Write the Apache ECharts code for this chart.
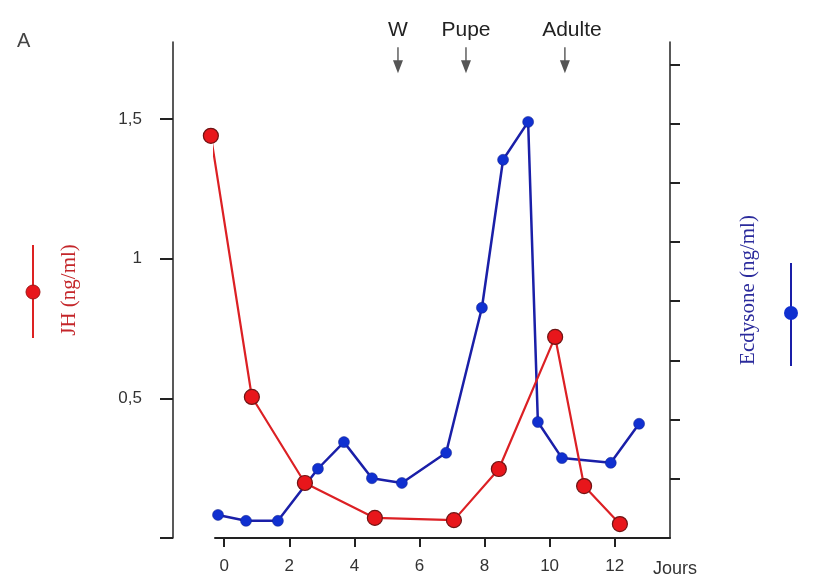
<!DOCTYPE html>
<html>
<head>
<meta charset="utf-8">
<script src="https://cdn.jsdelivr.net/npm/echarts@6/dist/echarts.min.js"></script>
<style>
  html, body { margin: 0; padding: 0; background: #fff; }
  #chart { width: 821px; height: 586px; }
</style>
</head>
<body>
<div id="chart"></div>
<script>
// days (x) and values
const jhDays = [-0.41, 0.85, 2.48, 4.63, 7.06, 8.44, 10.17, 11.06, 12.16];
const jhValues = [1.44, 0.505, 0.197, 0.072, 0.064, 0.247, 0.72, 0.186, 0.05];
const ecdDays = [-0.19, 0.67, 1.65, 2.88, 3.68, 4.54, 5.46, 6.82, 7.92, 8.57, 9.34, 9.64, 10.38, 11.88, 12.75];
const ecdValues = [0.39, 0.29, 0.29, 1.17, 1.62, 1.01, 0.93, 1.44, 3.89, 6.39, 7.03, 1.96, 1.35, 1.27, 1.93];
const xTicks = [0, 2, 4, 6, 8, 10, 12];
const jhTicks = [0, 0.5, 1, 1.5];
const jhLabels = [0.5, 1, 1.5];
const ecdTicks = [1, 2, 3, 4, 5, 6, 7, 8];
const stages = ['W', 'Pupe', 'Adulte'];
const stageDays = [5.34, 7.43, 10.47];

const RED = '#dc2024';
const BLUE = '#1a1fa8';
const sans = 'Liberation Sans, Arial, sans-serif';
const serif = 'Liberation Serif, Times New Roman, serif';
const arrow = 'path://M4.3,0 L5.7,0 L5.7,13 L10,13 L5,26 L0,13 L4.3,13 Z';

var chart = echarts.init(document.getElementById('chart'));

var option = {
  animation: false,
  backgroundColor: '#fff',
  title: {
    text: 'A',
    left: 12,
    top: 26,
    textStyle: { fontFamily: sans, fontSize: 20, fontWeight: 'normal', color: '#444' }
  },
  grid: { left: 215, right: 151, top: 42, bottom: 48 },
  xAxis: {
    type: 'value',
    min: -0.283,
    max: 13.7,
    splitLine: { show: false },
    axisLine: { onZero: false, lineStyle: { color: '#222', width: 2 } },
    axisTick: { length: 9, customValues: xTicks, lineStyle: { color: '#222', width: 2 } },
    axisLabel: {
      customValues: xTicks,
      margin: 20,
      fontFamily: sans,
      fontSize: 17,
      color: '#333'
    },
    name: 'Jours',
    nameLocation: 'end',
    nameGap: -17,
    nameTextStyle: {
      fontFamily: sans, fontSize: 18, color: '#333',
      align: 'left', verticalAlign: 'top', padding: [22, 0, 0, 0]
    }
  },
  yAxis: [
    {
      type: 'value',
      position: 'left',
      offset: 42,
      min: 0,
      max: 1.776,
      splitLine: { show: false },
      axisLine: { show: true, onZero: false, lineStyle: { color: '#222', width: 1.5 } },
      axisTick: { length: 13, customValues: jhTicks, lineStyle: { color: '#222', width: 2 } },
      axisLabel: {
        customValues: jhLabels,
        margin: 31,
        fontFamily: sans,
        fontSize: 17,
        color: '#333',
        formatter: function (v) { return String(v).replace('.', ','); }
      },
      name: 'JH (ng/ml)',
      nameLocation: 'middle',
      nameRotate: 90,
      nameGap: 93,
      nameTextStyle: { fontFamily: serif, fontSize: 21, color: '#c4262a' }
    },
    {
      type: 'value',
      position: 'right',
      min: 0,
      max: 8.38,
      splitLine: { show: false },
      axisLine: { show: true, onZero: false, lineStyle: { color: '#222', width: 1.5 } },
      axisTick: { length: 10, customValues: ecdTicks, lineStyle: { color: '#222', width: 2 } },
      axisLabel: { show: false },
      name: 'Ecdysone (ng/ml)',
      nameLocation: 'middle',
      nameRotate: 90,
      nameGap: 68,
      nameTextStyle: { fontFamily: serif, fontSize: 21, color: '#2b2b9c' }
    }
  ],
  series: [
    {
      name: 'Ecdysone',
      type: 'line',
      yAxisIndex: 1,
      clip: false,
      symbol: 'circle',
      symbolSize: 11,
      lineStyle: { color: BLUE, width: 2.5 },
      itemStyle: { color: '#1030d0', borderColor: '#10208a', borderWidth: 0.5 },
      data: ecdDays.map(function (d, i) { return [d, ecdValues[i]]; }),
      z: 3
    },
    {
      name: 'JH',
      type: 'line',
      yAxisIndex: 0,
      clip: false,
      symbol: 'circle',
      symbolSize: 15,
      lineStyle: { color: RED, width: 2.2 },
      itemStyle: { color: '#e8161b', borderColor: '#6e1414', borderWidth: 1.2 },
      data: jhDays.map(function (d, i) { return [d, jhValues[i]]; }),
      markPoint: {
        symbol: arrow,
        symbolSize: [10, 26],
        itemStyle: { color: '#555' },
        label: {
          show: true,
          position: 'top',
          distance: 6,
          fontFamily: sans,
          fontSize: 21,
          color: '#222',
          formatter: '{b}'
        },
        data: stages.map(function (s, i) {
          var item = { name: s, coord: [stageDays[i], 1.711] };
          if (s === 'Adulte') item.label = { offset: [7, 0] };
          return item;
        })
      },
      z: 4
    }
  ],
  graphic: [
    // left key: red line with dot
    { type: 'line', shape: { x1: 33, y1: 245, x2: 33, y2: 338 }, style: { stroke: '#d22', lineWidth: 2 } },
    { type: 'circle', shape: { cx: 33, cy: 292, r: 7 }, style: { fill: '#e8161b', stroke: '#a01515', lineWidth: 1 } },
    // right key: blue line with dot
    { type: 'line', shape: { x1: 791, y1: 263, x2: 791, y2: 366 }, style: { stroke: BLUE, lineWidth: 2 } },
    { type: 'circle', shape: { cx: 791, cy: 313, r: 7 }, style: { fill: '#1030d0' } }
  ]
};

option && chart.setOption(option);
</script>
</body>
</html>
